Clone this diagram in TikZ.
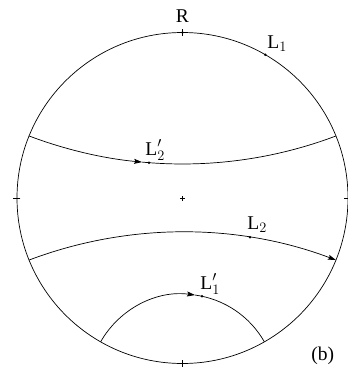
\documentclass[tikz,border=0pt]{standalone}
\usepackage{fontspec}
\setmainfont{Liberation Serif}
\usetikzlibrary{arrows.meta}
\begin{document}
\begin{tikzpicture}[x=1pt,y=1pt,line width=0.7pt,
  lbl/.style={inner sep=0pt,font=\fontsize{19.5}{22}\selectfont},
  tip/.style={-{Stealth[length=8pt,width=5pt,inset=1.5pt]}},
  dotmark/.style={fill=black}]
\useasboundingbox (0,0) rectangle (348,-368);
\coordinate (O) at (182.5,-198);
\draw (O) circle (165.5);
% ticks
\foreach \a in {0,90,180,270}
  \draw ([shift={(\a:162)}]O) -- ([shift={(\a:169)}]O);
% centre mark
\draw ([shift={(-2.5,0)}]O) -- ([shift={(2.5,0)}]O);
\draw ([shift={(0,-2.5)}]O) -- ([shift={(0,2.5)}]O);
% R and L1 points
\coordinate (Rp) at ([shift={(90:165.5)}]O);
\coordinate (L1p) at ([shift={(60:165.5)}]O);
\fill[dotmark] (Rp) circle (1.4);
\fill[dotmark] (L1p) circle (1.4);
% L2' arc
\coordinate (C2p) at (182.5,270.2);
\draw[tip] ([shift={(249.31:434.2)}]C2p) arc[start angle=249.31,end angle=264.65,radius=434.2];
\draw ([shift={(264.65:434.2)}]C2p) arc[start angle=264.65,end angle=290.69,radius=434.2];
\coordinate (L2pp) at ([shift={(265.58:434.2)}]C2p);
\fill[dotmark] (L2pp) circle (1.4);
% L2 arc
\coordinate (C2) at (182.5,-666.2);
\draw[tip] ([shift={(110.69:434.2)}]C2) arc[start angle=110.69,end angle=69.31,radius=434.2];
\coordinate (L2p) at ([shift={(81.06:434.2)}]C2);
\fill[dotmark] (L2p) circle (1.4);
% L1' arc
\coordinate (C1p) at (182.5,-388.4);
\draw[tip] ([shift={(150.35:94.2)}]C1p) arc[start angle=150.35,end angle=82.37,radius=94.2];
\draw ([shift={(82.37:94.2)}]C1p) arc[start angle=82.37,end angle=29.65,radius=94.2];
\coordinate (L1pp) at ([shift={(78.05:94.2)}]C1p);
\fill[dotmark] (L1pp) circle (1.4);
% labels
\node[lbl,anchor=base] (tR) at (182.5,-22) {R};
\node[lbl,anchor=base west] (tL1) at (267,-48) {L$_1$};
\node[lbl,anchor=base west] (tL2p) at (145,-155) {L$'_2$};
\node[lbl,anchor=base west] (tL2) at (247,-229) {L$_2$};
\node[lbl,anchor=base west] (tL1p) at (200,-289) {L$'_1$};
\node[lbl,anchor=base west] (tb) at (311,-360) {(b)};
\end{tikzpicture}
\end{document}
